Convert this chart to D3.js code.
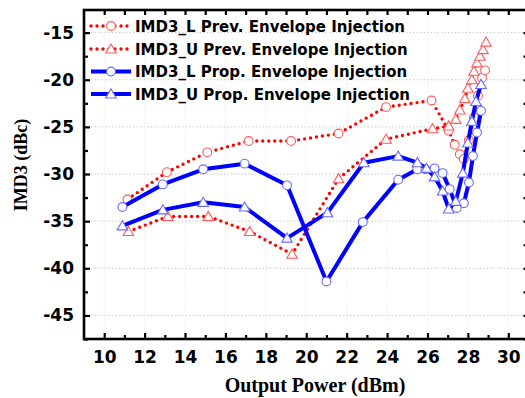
<!DOCTYPE html>
<html>
<head>
<meta charset="utf-8">
<script src="https://cdn.jsdelivr.net/npm/d3@7"></script>
<style>
  html, body { margin: 0; padding: 0; background: #fff; }
  svg { display: block; }
</style>
</head>
<body>
<svg id="chart" width="525" height="398"></svg>
<script>
// ---- data ----
const seriesNames = [
  "IMD3_L Prev. Envelope Injection",
  "IMD3_U Prev. Envelope Injection",
  "IMD3_L Prop. Envelope Injection",
  "IMD3_U Prop. Envelope Injection"
];
const lPrevX = [11.15, 13.1, 15.1, 17.15, 19.25, 21.6, 23.95, 26.2, 27.05, 27.35, 27.6, 27.8, 28.05, 28.3, 28.5, 28.7, 28.85];
const lPrevY = [-32.7, -29.8, -27.7, -26.5, -26.5, -25.7, -22.9, -22.2, -25.4, -26.9, -27.9, -28.4, -26.4, -24.0, -21.7, -19.8, -19.0];
const uPrevX = [11.2, 13.15, 15.15, 17.2, 19.3, 21.6, 23.95, 26.25, 27.05, 27.4, 27.6, 27.85, 28.0, 28.2, 28.3, 28.45, 28.6, 28.75, 28.9];
const uPrevY = [-36.1, -34.5, -34.5, -36.1, -38.5, -30.5, -26.3, -25.2, -24.9, -24.2, -23.2, -22.0, -20.9, -20.0, -19.1, -18.2, -17.5, -16.8, -16.0];
const lPropX = [10.9, 12.9, 14.9, 16.95, 19.05, 21.0, 22.8, 24.55, 25.5, 25.9, 26.35, 26.75, 27.1, 27.45, 27.8, 28.05, 28.25, 28.45, 28.65];
const lPropY = [-33.5, -31.1, -29.5, -28.9, -31.2, -41.4, -35.1, -30.6, -29.5, -29.5, -29.4, -29.9, -31.6, -33.6, -33.1, -30.9, -28.1, -25.6, -23.3];
const uPropX = [10.9, 12.9, 14.9, 16.95, 19.05, 21.05, 22.85, 24.55, 25.5, 25.95, 26.35, 26.75, 27.05, 27.4, 27.75, 28.0, 28.2, 28.4, 28.65];
const uPropY = [-35.5, -33.8, -33.0, -33.5, -36.8, -34.1, -28.8, -28.1, -28.8, -29.4, -30.3, -31.8, -33.7, -32.9, -29.9, -26.7, -24.4, -22.3, -20.5];

const xTickLabels = [10, 12, 14, 16, 18, 20, 22, 24, 26, 28, 30];
const xMinorTicks = [11, 13, 15, 17, 19, 21, 23, 25, 27, 29];
const yTickLabels = [-45, -40, -35, -30, -25, -20, -15];
const yMinorTicks = [-47.5, -42.5, -37.5, -32.5, -27.5, -22.5, -17.5];

// ---- layout ----
const svg = d3.select("#chart");
const L = 84, R = 528.5, T = 10, B = 339;
const x = d3.scaleLinear().domain([9, 31]).range([L, R]);
const y = d3.scaleLinear().domain([-47.5, -12.6]).range([B, T]);
const sansFont = "'DejaVu Sans', Verdana, sans-serif";
const serifFont = "'Liberation Serif', 'Times New Roman', serif";
const plainFmt = d => String(d);

// gridlines
const grid = svg.append("g");
grid.selectAll("line.h").data(yTickLabels).join("line")
  .attr("x1", L).attr("x2", R).attr("y1", d => y(d)).attr("y2", d => y(d))
  .attr("stroke", "#c8c8c8").attr("stroke-width", 1).attr("stroke-dasharray", "1.5,2");
grid.selectAll("line.v").data(xTickLabels).join("line")
  .attr("y1", T).attr("y2", B).attr("x1", d => x(d)).attr("x2", d => x(d))
  .attr("stroke", "#ececec").attr("stroke-width", 1).attr("stroke-dasharray", "1.5,2");

// series definitions
const series = [
  { name: seriesNames[0], xs: lPrevX, ys: lPrevY, line: "#ff0000", mark: "#ff5a5a", dotted: true, shape: "circle" },
  { name: seriesNames[1], xs: uPrevX, ys: uPrevY, line: "#ff0000", mark: "#ff5a5a", dotted: true, shape: "triangle" },
  { name: seriesNames[2], xs: lPropX, ys: lPropY, line: "#0000ff", mark: "#6a6aff", dotted: false, shape: "circle" },
  { name: seriesNames[3], xs: uPropX, ys: uPropY, line: "#0000ff", mark: "#6a6aff", dotted: false, shape: "triangle" }
];

const lineGen = d3.line().x(d => x(d[0])).y(d => y(d[1]));
const symCircle = d3.symbol().type(d3.symbolCircle).size(Math.PI * 4.4 * 4.4);
const symTri = d3.symbol().type(d3.symbolTriangle).size(48);

function styleLine(sel, s) {
  sel.attr("fill", "none").attr("stroke", s.line);
  if (s.dotted) {
    sel.attr("stroke-width", 3.4).attr("stroke-linecap", "round").attr("stroke-dasharray", "0,6");
  } else {
    sel.attr("stroke-width", 4).attr("stroke-linejoin", "round");
  }
  return sel;
}
function symPath(s) { return s.shape === "circle" ? symCircle() : symTri(); }

const plot = svg.append("g");
series.forEach(s => {
  const pts = s.xs.map((v, i) => [v, s.ys[i]]);
  const g = plot.append("g");
  styleLine(g.append("path").attr("d", lineGen(pts)), s);
  g.selectAll("path.m").data(pts).join("path")
    .attr("class", "m")
    .attr("d", symPath(s))
    .attr("transform", d => `translate(${x(d[0])},${y(d[1]) + (s.shape === "triangle" ? 1 : 0)})`)
    .attr("fill", "#fff").attr("stroke", s.mark).attr("stroke-width", 1.1);
});

// axes
const axisFont = g => g.selectAll("text").attr("font-family", sansFont).attr("font-weight", "bold")
  .attr("font-size", 17).attr("fill", "#000");
const axisStroke = g => { g.select(".domain").remove(); g.selectAll(".tick line").attr("stroke", "#000").attr("stroke-width", 2.2); };

const xAxis = svg.append("g").attr("transform", `translate(0,${B})`)
  .call(d3.axisBottom(x).tickValues(xTickLabels).tickSize(-6).tickPadding(12).tickFormat(plainFmt));
axisStroke(xAxis); axisFont(xAxis);
const xMinor = svg.append("g").attr("transform", `translate(0,${B})`)
  .call(d3.axisBottom(x).tickValues(xMinorTicks).tickSize(-4).tickFormat(""));
axisStroke(xMinor);
const xTop = svg.append("g").attr("transform", `translate(0,${T})`)
  .call(d3.axisTop(x).tickValues(xTickLabels.concat(xMinorTicks)).tickSize(-5).tickFormat(""));
axisStroke(xTop);

const yAxis = svg.append("g").attr("transform", `translate(${L},0)`)
  .call(d3.axisLeft(y).tickValues(yTickLabels).tickSize(-6).tickPadding(10).tickFormat(plainFmt));
axisStroke(yAxis); axisFont(yAxis);
const yMinor = svg.append("g").attr("transform", `translate(${L},0)`)
  .call(d3.axisLeft(y).tickValues(yMinorTicks).tickSize(-4).tickFormat(""));
axisStroke(yMinor);
const yRight = svg.append("g").attr("transform", `translate(${R},0)`)
  .call(d3.axisRight(y).tickValues(yTickLabels.concat(yMinorTicks)).tickSize(-5).tickFormat(""));
axisStroke(yRight);

// frame
svg.append("rect").attr("x", L).attr("y", T).attr("width", R - L).attr("height", B - T)
  .attr("fill", "none").attr("stroke", "#000").attr("stroke-width", 2.6);

// axis titles
svg.append("text").attr("x", 315).attr("y", 392).attr("text-anchor", "middle")
  .attr("font-family", serifFont).attr("font-weight", "bold").attr("font-size", 20)
  .text("Output Power (dBm)");
svg.append("text").attr("transform", "translate(27,165) rotate(-90)").attr("text-anchor", "middle")
  .attr("font-family", serifFont).attr("font-weight", "bold").attr("font-size", 18)
  .text("IMD3 (dBc)");

// legend
const legRows = [26, 49, 71.5, 94];
const legend = svg.append("g");
series.forEach((s, i) => {
  const cy = legRows[i];
  const g = legend.append("g");
  styleLine(g.append("path").attr("d", d3.line()([[91, cy], [131, cy]])), s);
  g.append("path").attr("d", symPath(s))
    .attr("transform", `translate(111,${cy + (s.shape === "triangle" ? 1 : 0)})`)
    .attr("fill", "#fff").attr("stroke", s.mark).attr("stroke-width", 1.1);
  g.append("text").attr("x", 135).attr("y", cy + 5.5)
    .attr("font-family", sansFont).attr("font-weight", "bold").attr("font-size", 15)
    .attr("fill", "#000").text(s.name);
});
</script>
</body>
</html>
